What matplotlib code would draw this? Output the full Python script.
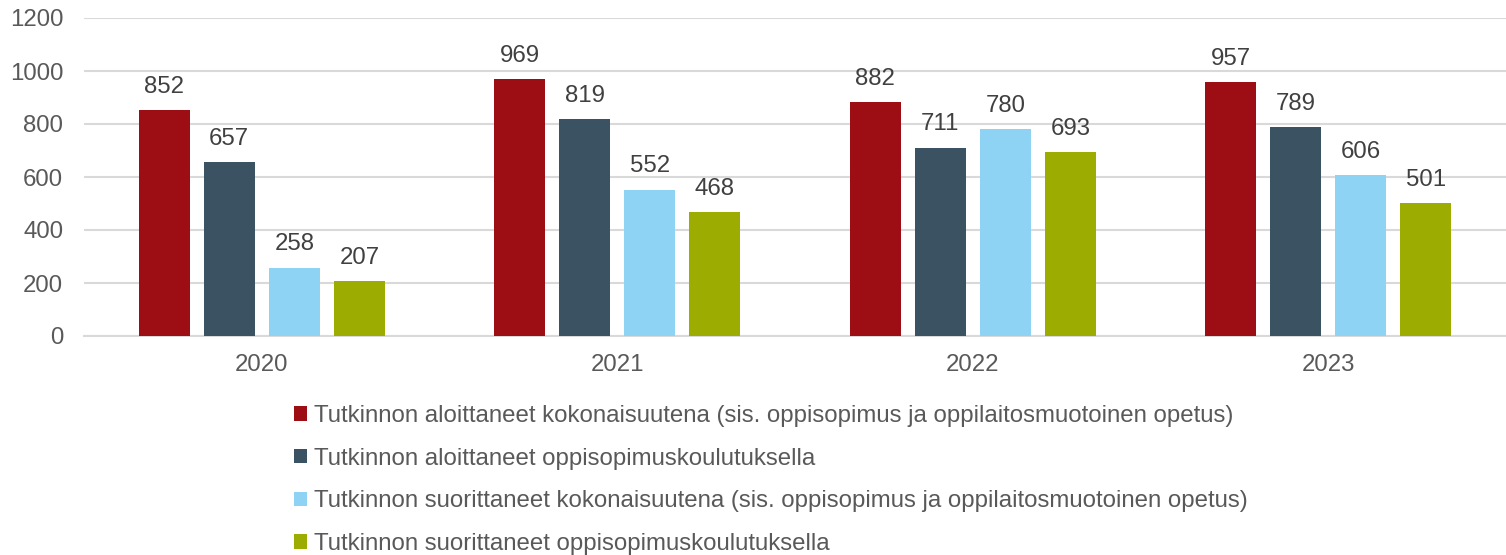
import matplotlib
matplotlib.use("Agg")
import matplotlib.pyplot as plt
import numpy as np
from matplotlib.patches import Patch

plt.rcParams['font.family'] = ['Liberation Sans', 'DejaVu Sans']

years = ["2020", "2021", "2022", "2023"]
series_names = [
    "Tutkinnon aloittaneet kokonaisuutena (sis. oppisopimus ja oppilaitosmuotoinen opetus)",
    "Tutkinnon aloittaneet oppisopimuskoulutuksella",
    "Tutkinnon suorittaneet kokonaisuutena (sis. oppisopimus ja oppilaitosmuotoinen opetus)",
    "Tutkinnon suorittaneet oppisopimuskoulutuksella",
]
aloittaneet_kok = [852, 969, 882, 957]
aloittaneet_oppi = [657, 819, 711, 789]
suorittaneet_kok = [258, 552, 780, 606]
suorittaneet_oppi = [207, 468, 693, 501]
series_values = [aloittaneet_kok, aloittaneet_oppi, suorittaneet_kok, suorittaneet_oppi]
colors = ["#9C0D14", "#3B5262", "#8ED3F3", "#9CAC00"]
yticks = [0, 200, 400, 600, 800, 1000, 1200]

text_color = "#595959"
fs = 17.3

fig = plt.figure(figsize=(15.06, 5.55), dpi=100)
ax = fig.add_axes([84/1506, 1-336/555, 1-84/1506, (336-18)/555])

x = np.arange(len(years))
width = 0.1435
step = 0.183
for i, (vals, col, name) in enumerate(zip(series_values, colors, series_names)):
    off = (i - 1.5) * step
    ax.bar(x + off, vals, width=width, color=col, label=name, zorder=3)
    for xi, v in zip(x + off, vals):
        ax.annotate(str(v), (xi, v), xytext=(0, 12.5), textcoords='offset points',
                    ha='center', va='baseline', fontsize=fs, color="#404040")

ax.set_xlim(-0.5, 3.5)
ax.set_ylim(0, 1200)
ax.set_yticks(yticks)
ax.set_yticklabels([str(t) for t in yticks])
ax.set_xticks(x)
ax.set_xticklabels(years)
ax.tick_params(axis='both', length=0, labelsize=fs, labelcolor=text_color)
ax.tick_params(axis='y', pad=15)
ax.tick_params(axis='x', pad=13)
ax.yaxis.grid(True, color="#D9D9D9", linewidth=1.5, zorder=0)
ax.set_axisbelow(True)
for s in ["top", "right", "left"]:
    ax.spines[s].set_visible(False)
ax.spines["bottom"].set_color("#D9D9D9")
ax.spines["bottom"].set_linewidth(1.5)

handles = [Patch(facecolor=c, edgecolor='none') for c in colors]
leg = fig.legend(handles, series_names, loc='upper left', bbox_to_anchor=(294/1506, 1-405/555),
                 frameon=False, fontsize=fs, labelcolor=text_color,
                 handlelength=0.55, handleheight=0.55, handletextpad=0.3,
                 labelspacing=0.86, borderpad=0, borderaxespad=0)

fig.savefig("out.png", dpi=100)
